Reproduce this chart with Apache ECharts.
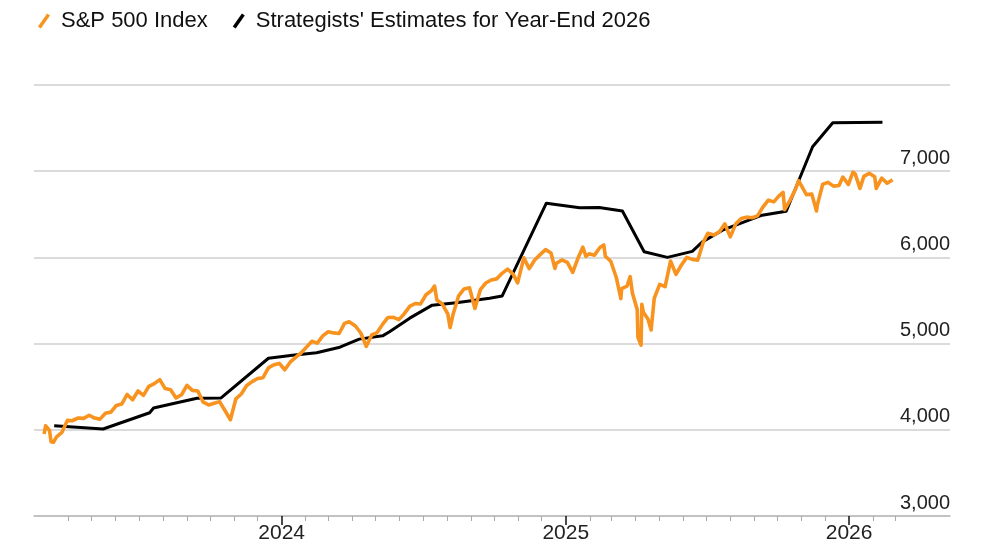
<!DOCTYPE html>
<html>
<head>
<meta charset="utf-8">
<script src="https://cdn.jsdelivr.net/npm/echarts@6/dist/echarts.min.js"></script>
<style>
html,body{margin:0;padding:0;background:#fff;}
#chart{width:1000px;height:545px;}
</style>
</head>
<body>
<div id="chart"></div>
<script>
// S&P 500 Index (approximate closes)
const spDates = [
'2023-03-01','2023-03-03','2023-03-08','2023-03-10','2023-03-13','2023-03-17','2023-03-24','2023-03-31',
'2023-04-06','2023-04-14','2023-04-21','2023-04-28','2023-05-05','2023-05-12','2023-05-19','2023-05-26',
'2023-06-02','2023-06-09','2023-06-16','2023-06-23','2023-06-30','2023-07-07','2023-07-14','2023-07-21',
'2023-07-28','2023-08-04','2023-08-11','2023-08-18','2023-08-25','2023-09-01','2023-09-08','2023-09-15',
'2023-09-22','2023-09-29','2023-10-06','2023-10-13','2023-10-20','2023-10-27','2023-11-03','2023-11-10',
'2023-11-17','2023-11-24','2023-12-01','2023-12-08','2023-12-15','2023-12-22','2023-12-29',
'2024-01-05','2024-01-12','2024-01-19','2024-01-26','2024-02-02','2024-02-09','2024-02-16','2024-02-23',
'2024-03-01','2024-03-08','2024-03-15','2024-03-22','2024-03-28','2024-04-05','2024-04-12','2024-04-19',
'2024-04-26','2024-05-03','2024-05-10','2024-05-17','2024-05-24','2024-05-31','2024-06-07','2024-06-14',
'2024-06-21','2024-06-28','2024-07-05','2024-07-12','2024-07-16','2024-07-19','2024-07-26','2024-08-02',
'2024-08-05','2024-08-09','2024-08-16','2024-08-23','2024-08-30','2024-09-06','2024-09-13','2024-09-20',
'2024-09-27','2024-10-04','2024-10-11','2024-10-18','2024-10-25','2024-10-31','2024-11-08','2024-11-15',
'2024-11-22','2024-11-29','2024-12-06','2024-12-13','2024-12-18','2024-12-20','2024-12-27',
'2025-01-03','2025-01-10','2025-01-17','2025-01-23','2025-01-27','2025-01-31','2025-02-07','2025-02-14',
'2025-02-19','2025-02-21','2025-02-28','2025-03-07','2025-03-13','2025-03-14','2025-03-21','2025-03-25',
'2025-03-28','2025-04-03','2025-04-04','2025-04-08','2025-04-09','2025-04-11','2025-04-17','2025-04-21',
'2025-04-25','2025-05-02','2025-05-09','2025-05-16','2025-05-23','2025-05-30','2025-06-06','2025-06-13',
'2025-06-20','2025-06-27','2025-07-03','2025-07-11','2025-07-18','2025-07-25','2025-08-01','2025-08-08',
'2025-08-15','2025-08-22','2025-08-29','2025-09-05','2025-09-12','2025-09-19','2025-09-26','2025-10-03',
'2025-10-08','2025-10-10','2025-10-17','2025-10-24','2025-10-28','2025-10-31','2025-11-07','2025-11-14',
'2025-11-20','2025-11-21','2025-11-28','2025-12-05','2025-12-12','2025-12-19','2025-12-24','2025-12-31',
'2026-01-06','2026-01-09','2026-01-15','2026-01-20','2026-01-27','2026-02-03','2026-02-05','2026-02-12',
'2026-02-19','2026-02-26'
];
const spValues = [
3951,4046,3992,3862,3855,3917,3971,4109,
4105,4137,4133,4169,4136,4124,4192,4205,
4282,4299,4410,4348,4450,4399,4505,4536,
4582,4478,4464,4370,4406,4516,4457,4450,
4320,4288,4308,4327,4224,4117,4358,4415,
4514,4559,4595,4604,4719,4755,4770,
4697,4784,4840,4891,4959,5027,5006,5089,
5137,5124,5117,5234,5254,5204,5123,4967,
5100,5128,5223,5303,5305,5278,5347,5432,
5465,5460,5567,5615,5667,5505,5459,5346,
5186,5344,5554,5634,5648,5408,5626,5703,
5738,5751,5815,5864,5808,5705,5995,5870,
5969,6032,6090,6051,5872,5931,5971,
5942,5827,5997,6119,6012,6041,6026,6115,
6144,6013,5955,5770,5521,5639,5668,5777,
5581,5397,5074,4982,5457,5363,5283,5158,
5525,5687,5660,5958,5803,5912,6000,5977,
5968,6173,6279,6260,6297,6389,6238,6389,
6450,6467,6460,6482,6584,6664,6644,6716,
6753,6553,6664,6791,6891,6840,6728,6734,
6538,6603,6849,6870,6827,6834,6932,6845,
6990,6966,6800,6940,6975,6935,6800,6920,
6860,6900
];
// Strategists' estimates (average year-end target)
const estDates = [
'2023-03-14','2023-05-16','2023-07-15','2023-07-20','2023-08-19','2023-09-14','2023-10-15','2023-12-15',
'2024-01-15','2024-02-15','2024-03-16','2024-04-10','2024-05-10','2024-05-19','2024-06-14','2024-07-13',
'2024-08-13','2024-09-25','2024-10-11','2024-12-07','2025-01-19','2025-02-13','2025-03-15','2025-04-12',
'2025-05-12','2025-06-13','2025-06-26','2025-07-22','2025-09-11','2025-10-12','2025-11-15','2025-12-11',
'2026-02-13'
];
const estValues = [
4047,4009,4198,4252,4314,4367,4370,4830,
4866,4893,4958,5052,5090,5137,5295,5446,
5473,5527,5551,6629,6575,6580,6539,6065,
6000,6070,6180,6316,6490,6536,7283,7562,
7568
];
const seriesNames = ['S&P 500 Index', "Strategists' Estimates for Year-End 2026"];
const yTicks = [3000, 4000, 5000, 6000, 7000, 8000];
const yearTicks = ['2024-01-01', '2025-01-01', '2026-01-01'];
const monthTickRange = ['2023-04', '2026-03']; // first and last monthly minor tick

const FONT = 'Liberation Sans';
const xMin = '2023-02-16';
const xMax = '2026-05-11';
const slash = 'path://M0,10 L7,0 L9.2,1.4 L2.2,11.4 Z';

const toTs = s => echarts.number.parseDate(s).getTime();
const monthTicks = (function () {
  const out = [];
  let [y, m] = monthTickRange[0].split('-').map(Number);
  const [ey, em] = monthTickRange[1].split('-').map(Number);
  while (y < ey || (y === ey && m <= em)) {
    const s = y + '-' + String(m).padStart(2, '0') + '-01';
    if (m !== 1) out.push(toTs(s));
    m++; if (m > 12) { m = 1; y++; }
  }
  return out;
})();
const yearTs = yearTicks.map(toTs);
const minTs = toTs(xMin), maxTs = toTs(xMax);

const chart = echarts.init(document.getElementById('chart'));
chart.setOption({
  animation: false,
  backgroundColor: '#fff',
  textStyle: { fontFamily: FONT },
  legend: {
    left: 33, top: 5,
    itemWidth: 12, itemHeight: 15, itemGap: 25,
    data: [
      { name: seriesNames[0], icon: slash, itemStyle: { color: '#F7931E' } },
      { name: seriesNames[1], icon: slash, itemStyle: { color: '#000' } }
    ],
    textStyle: { fontFamily: FONT, fontSize: 22, color: '#111', padding: [0, 0, 0, 6] }
  },
  grid: { left: 34, right: 50, top: 85, bottom: 29, containLabel: false },
  xAxis: [
    {
      type: 'time', min: minTs, max: maxTs,
      axisLine: { show: true, lineStyle: { color: '#bbb', width: 1.5 } },
      axisTick: { show: false },
      axisLabel: { show: false },
      splitLine: { show: false }
    },
    {
      type: 'value', min: minTs, max: maxTs, position: 'bottom',
      axisLine: { show: false },
      axisTick: { show: true, length: 5, customValues: monthTicks, lineStyle: { color: '#aaa', width: 1 } },
      axisLabel: { show: false },
      splitLine: { show: false }
    },
    {
      type: 'value', min: minTs, max: maxTs, position: 'bottom',
      axisLine: { show: false },
      axisTick: { show: true, length: 9, customValues: yearTs, lineStyle: { color: '#111', width: 1.5 } },
      axisLabel: {
        show: true, fontFamily: FONT, fontSize: 21, color: '#222', margin: 7,
        customValues: yearTs,
        formatter: function (v) { return String(new Date(v).getFullYear()); }
      },
      splitLine: { show: false }
    }
  ],
  yAxis: {
    type: 'value', position: 'right', min: yTicks[0], max: yTicks[yTicks.length - 1], interval: 1000,
    axisLine: { show: false }, axisTick: { show: false },
    splitLine: { show: true, lineStyle: { color: '#cfcfcf', width: 1.5 } },
    axisLabel: {
      inside: true, showMaxLabel: false, margin: 0,
      verticalAlign: 'bottom', padding: [0, 0, 3, 0],
      fontFamily: FONT, fontSize: 20, color: '#222',
      formatter: function (v) { return v.toLocaleString('en-US'); }
    }
  },
  series: [
    {
      name: seriesNames[1], type: 'line', xAxisIndex: 0,
      data: estDates.map((d, i) => [d, estValues[i]]),
      showSymbol: false, symbol: 'none',
      lineStyle: { color: '#000', width: 3, join: 'round' },
      itemStyle: { color: '#000' }
    },
    {
      name: seriesNames[0], type: 'line', xAxisIndex: 0,
      data: spDates.map((d, i) => [d, spValues[i]]),
      showSymbol: false, symbol: 'none',
      lineStyle: { color: '#F7931E', width: 3.6, join: 'round' },
      itemStyle: { color: '#F7931E' }
    }
  ]
});
</script>
</body>
</html>
